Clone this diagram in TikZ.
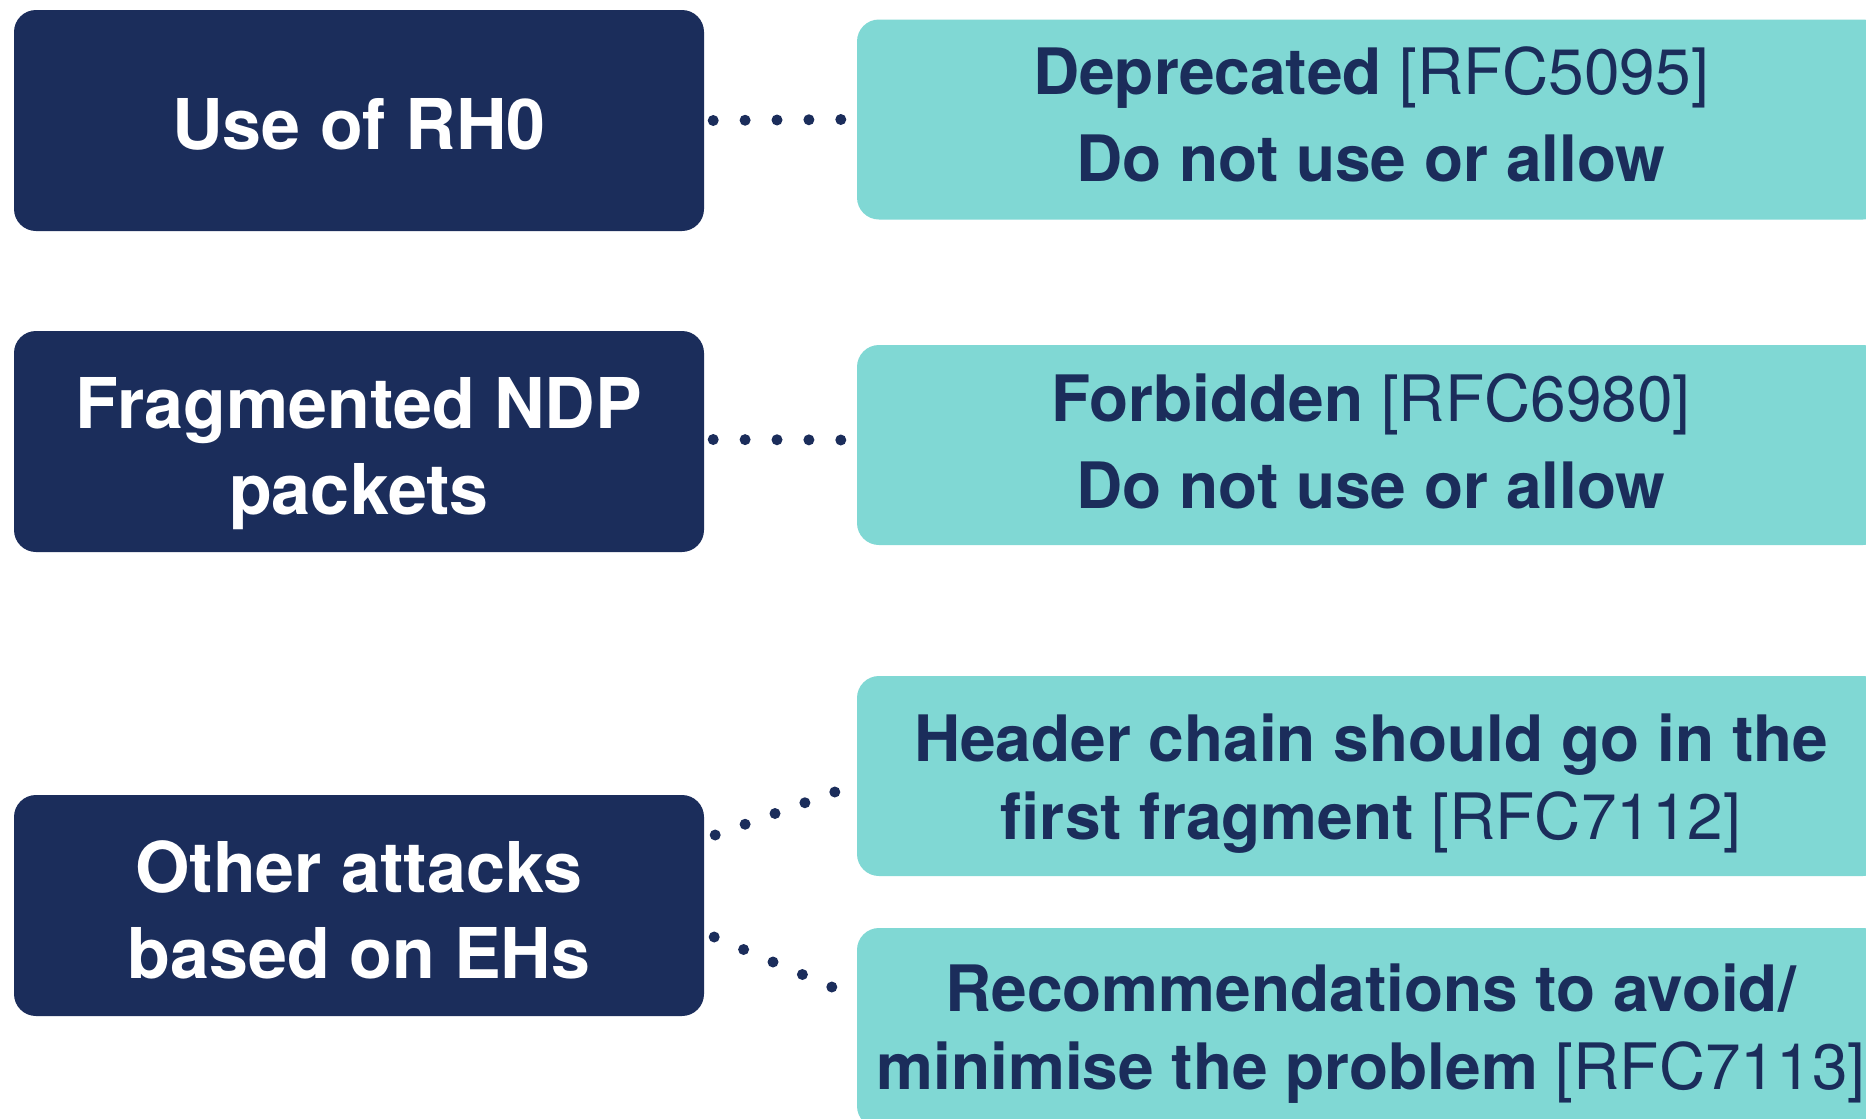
\documentclass[tikz,border=0pt]{standalone}
\usepackage{fontspec}
\setmainfont{TeX Gyre Heros}
\usetikzlibrary{calc}
\definecolor{navy}{RGB}{27,45,91}
\definecolor{tealc}{RGB}{128,216,212}
\begin{document}
\begin{tikzpicture}[x=1pt,y=-1pt,
  darkbox/.style={fill=navy, rounded corners=22pt, minimum width=690pt, minimum height=221pt, inner sep=0pt},
  darktext/.style={text=white, align=center, inner sep=0pt, font=\fontsize{70}{86}\selectfont\bfseries},
  tealbox/.style={fill=tealc, rounded corners=22pt, minimum width=1028pt, minimum height=200pt, inner sep=0pt},
  tealtext/.style={text=navy, align=center, inner sep=0pt, font=\fontsize{64}{87}\selectfont},
  tight/.style={font=\fontsize{64}{78}\selectfont},
  dotfill/.style={fill=navy}]
\useasboundingbox (0,0) rectangle (1866,1119);
\clip (0,0) rectangle (1866,1119);
\fill[white] (0,0) rectangle (1866,1119);

\node[darkbox] (d1) at (359,120.5) {};
\node[darkbox] (d2) at (359,441.5) {};
\node[darkbox] (d3) at (359,905.5) {};
\node[tealbox] (t1) at (1371,119.5) {};
\node[tealbox] (t2) at (1371,445) {};
\node[tealbox] (t3) at (1371,776) {};
\node[tealbox] (t4) at (1371,1028) {};

\node[darktext] (d1t) at ($(d1.center)+(0,4)$) {Use of RH0};
\node[darktext] (d2t) at ($(d2.center)+(0,12)$) {Fragmented NDP\\packets};
\node[darktext] (d3t) at ($(d3.center)+(0,4)$) {Other attacks\\based on EHs};

\node[tealtext] (t1t) at ($(t1.center)+(0,-5)$) {\textbf{Deprecated} [RFC5095]\\\textbf{Do not use or allow}};
\node[tealtext] (t2t) at ($(t2.center)+(0,-4)$) {\textbf{Forbidden} [RFC6980]\\\textbf{Do not use or allow}};
\node[tealtext,tight] (t3t) at ($(t3.center)+(0,8)$) {\textbf{Header chain should go in the}\\\textbf{first fragment} [RFC7112]};
\node[tealtext,tight] (t4t) at ($(t4.center)+(0,6)$) {\textbf{Recommendations to avoid/}\\\textbf{minimise the problem} [RFC7113]};

\coordinate (a1) at ($(d1.east)+(9,0)$);
\coordinate (b1) at ($(t1.west)+(-16,0)$);
\coordinate (a2) at ($(d2.east)+(9,-2)$);
\coordinate (b2) at ($(t2.west)+(-16,-5)$);
\coordinate (a3) at ($(d3.east)+(11,-70.5)$);
\coordinate (b3) at ($(t3.west)+(-22,16)$);
\coordinate (a4) at ($(d3.east)+(10,31.5)$);
\coordinate (b4) at ($(t4.west)+(-25,-41)$);

\foreach \p in {1,2,3,4}{
  \foreach \t in {0,0.25,0.5,0.75,1}{
    \fill[dotfill] ($(a\p)!\t!(b\p)$) circle[radius=5.5pt];
  }
}
\end{tikzpicture}
\end{document}
